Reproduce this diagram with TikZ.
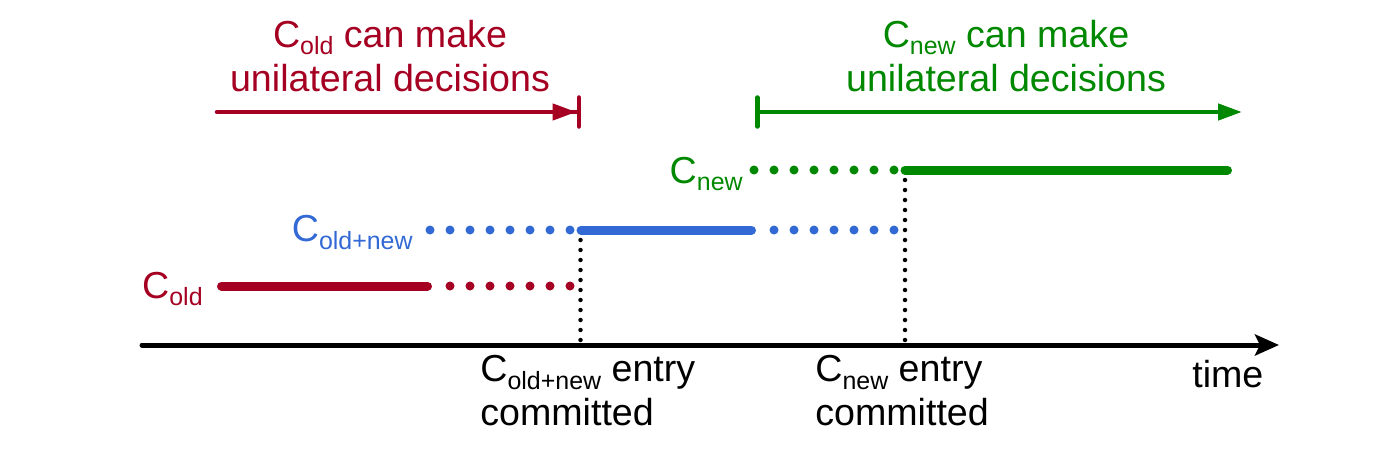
\documentclass[tikz,border=0pt]{standalone}
\usepackage{fontspec}
\setmainfont{Liberation Sans}
\usepackage{tikz}
\usetikzlibrary{arrows.meta}
\usepackage{xcolor}
\definecolor{oldred}{RGB}{165,0,33}
\definecolor{jointblue}{RGB}{50,105,212}
\definecolor{newgreen}{RGB}{0,136,0}
\newcommand\lowtxt[1]{\raisebox{-4.5pt}{\fontsize{14.2}{14.2}\selectfont #1}}

\begin{document}
\begin{tikzpicture}[font=\fontsize{21.4}{25.6}\selectfont,line cap=round,
  phase/.style={line width=0.18cm},
  wait/.style={line width=0.18cm,dash pattern=on 0pt off 0.4cm},
  commit/.style={line width=0.09cm,dash pattern=on 0pt off 0.2cm},
  span/.style={line width=0.09cm}]
\useasboundingbox (0,0) rectangle (28,9.2);
% time axis
\draw[line width=0.1cm,-{Stealth[length=0.48cm,width=0.42cm,inset=0.1cm]}] (2.84,2.3) -- (25.58,2.3);
\node[anchor=base west,inner sep=0] (time) at (23.84,1.46) {time};
% commit points
\draw[commit] (11.61,4.4) -- (11.61,2.32);
\draw[commit] (18.1,5.6) -- (18.1,2.32);
\node[anchor=base west,inner sep=0,align=left,font=\fontsize{21.4}{24.5}\selectfont] (jointcommit) at (9.6,0.7) {C\lowtxt{old+new} entry\\committed};
\node[anchor=base west,inner sep=0,align=left,font=\fontsize{21.4}{24.5}\selectfont] (newcommit) at (16.3,0.7) {C\lowtxt{new} entry\\committed};
% configurations
\node[anchor=base east,inner sep=0,text=oldred] (cold) at (4.06,3.24) {C\lowtxt{old}};
\draw[phase,oldred] (4.43,3.48) -- (8.55,3.48);
\draw[wait,oldred] (9.0,3.48) -- (11.42,3.48);
\node[anchor=base east,inner sep=0,text=jointblue] (cjoint) at (8.26,4.37) {C\lowtxt{old+new}};
\draw[wait,jointblue] (8.6,4.6) -- (11.42,4.6);
\draw[phase,jointblue] (11.62,4.6) -- (15.03,4.6);
\draw[wait,jointblue] (15.48,4.6) -- (17.9,4.6);
\node[anchor=base east,inner sep=0,text=newgreen] (cnew) at (14.86,5.54) {C\lowtxt{new}};
\draw[wait,newgreen] (15.08,5.8) -- (17.9,5.8);
\draw[phase,newgreen] (18.1,5.8) -- (24.55,5.8);
% decision ranges
\draw[span,oldred,-{Triangle[length=0.48cm,width=0.32cm]Bar[width=0.58cm,round]}] (4.34,6.96) -- (11.62,6.96);
\node[anchor=base,inner sep=0,align=center,text=oldred] (oldrange) at (7.8,7.36) {C\lowtxt{old} can make\\unilateral decisions};
\draw[span,newgreen,{Bar[width=0.58cm,round]}-{Triangle[length=0.48cm,width=0.32cm]}] (15.1,6.96) -- (24.84,6.96);
\node[anchor=base,inner sep=0,align=center,text=newgreen] (newrange) at (20.12,7.36) {C\lowtxt{new} can make\\unilateral decisions};
\end{tikzpicture}
\end{document}
